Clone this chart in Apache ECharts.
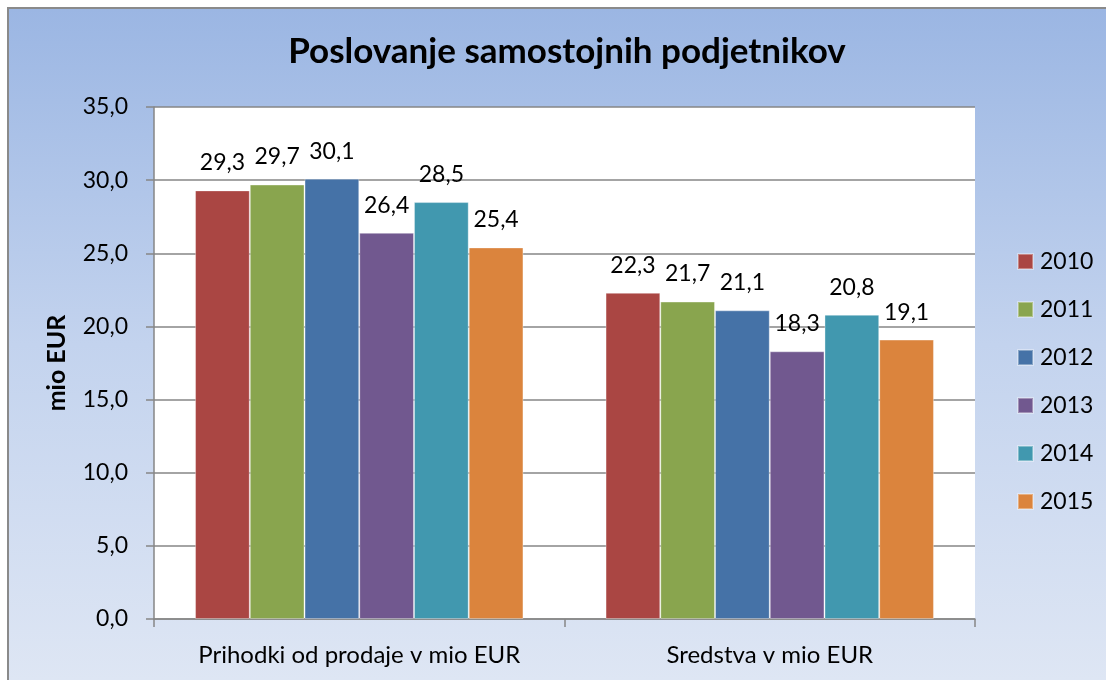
<!DOCTYPE html>
<html>
<head>
<meta charset="utf-8">
<title>Poslovanje samostojnih podjetnikov</title>
<script src="https://cdn.jsdelivr.net/npm/echarts@6/dist/echarts.min.js"></script>
<style>
  html, body {
    margin: 0;
    padding: 0;
    background: #ffffff;
  }
  .frame {
    position: absolute;
    left: 7px;
    top: 7px;
    width: 1099px;
    height: 673px;
    border-left: 2px solid #8a8a8a;
    border-top: 2px solid #8a8a8a;
    box-sizing: border-box;
    background: linear-gradient(to bottom, #9bb6e3 0%, #c3d3ee 50%, #dee6f4 100%);
  }
  #chart {
    position: absolute;
    left: 0;
    top: 0;
    width: 1106px;
    height: 680px;
  }
</style>
</head>
<body>
<div class="frame"></div>
<div id="chart"></div>
<script>
// podatki
const categories = ['Prihodki od prodaje v mio EUR', 'Sredstva v mio EUR']
const years = ['2010', '2011', '2012', '2013', '2014', '2015']
const values2010 = [29.3, 22.3]
const values2011 = [29.7, 21.7]
const values2012 = [30.1, 21.1]
const values2013 = [26.4, 18.3]
const values2014 = [28.5, 20.8]
const values2015 = [25.4, 19.1]
const colors = ['#AA4643', '#89A54E', '#4572A7', '#71588F', '#4198AF', '#DB843D']

const seriesValues = [values2010, values2011, values2012, values2013, values2014, values2015]
const fontFamily = 'Lato, "Open Sans", sans-serif'
const fmt = v => v.toFixed(1).replace('.', ',')

const chart = echarts.init(document.getElementById('chart'))

chart.setOption({
  backgroundColor: 'transparent',
  color: colors,
  textStyle: { fontFamily: fontFamily },
  title: {
    text: 'Poslovanje samostojnih podjetnikov',
    left: 562,
    top: 29,
    textAlign: 'center',
    textStyle: {
      fontFamily: fontFamily,
      fontSize: 35,
      fontWeight: 'bold',
      color: '#000000'
    }
  },
  legend: {
    orient: 'vertical',
    left: 1012,
    top: 245,
    itemWidth: 15,
    itemHeight: 15,
    itemGap: 25,
    icon: 'rect',
    data: years,
    textStyle: {
      fontFamily: fontFamily,
      fontSize: 23,
      lineHeight: 23,
      color: '#000000',
      padding: [0, 0, 0, 2]
    }
  },
  grid: {
    left: 154,
    top: 107,
    right: 131,
    bottom: 61,
    show: true,
    backgroundColor: '#ffffff',
    borderWidth: 0
  },
  xAxis: {
    type: 'category',
    data: categories,
    axisLine: { lineStyle: { color: '#868686', width: 1.5 } },
    axisTick: { show: true, length: 8, lineStyle: { color: '#868686', width: 1.5 } },
    axisLabel: {
      interval: 0,
      hideOverlap: false,
      margin: 24,
      fontSize: 24,
      color: '#000000',
      fontFamily: fontFamily
    }
  },
  yAxis: {
    type: 'value',
    min: 0,
    max: 35,
    interval: 5,
    name: 'mio EUR',
    nameLocation: 'middle',
    nameGap: 85,
    nameRotate: 90,
    nameTextStyle: {
      fontFamily: fontFamily,
      fontSize: 25,
      fontWeight: 'bold',
      color: '#000000'
    },
    axisLine: { show: true, lineStyle: { color: '#868686', width: 1.5 } },
    axisTick: { show: true, length: 8, inside: false, lineStyle: { color: '#868686', width: 1.5 } },
    splitLine: { lineStyle: { color: '#868686', width: 1.5 } },
    axisLabel: {
      margin: 26,
      fontSize: 23,
      color: '#000000',
      fontFamily: fontFamily,
      formatter: fmt
    }
  },
  series: years.map((y, i) => ({
    name: y,
    type: 'bar',
    data: seriesValues[i],
    barGap: '0%',
    barCategoryGap: '20%',
    itemStyle: {
      color: colors[i],
      borderColor: 'rgba(255,255,255,0.35)',
      borderWidth: 1
    },
    label: {
      show: true,
      position: 'top',
      distance: 16,
      fontSize: 23,
      color: '#000000',
      fontFamily: fontFamily,
      formatter: p => fmt(p.value)
    }
  }))
})

window.addEventListener('resize', () => chart.resize())
</script>
</body>
</html>
